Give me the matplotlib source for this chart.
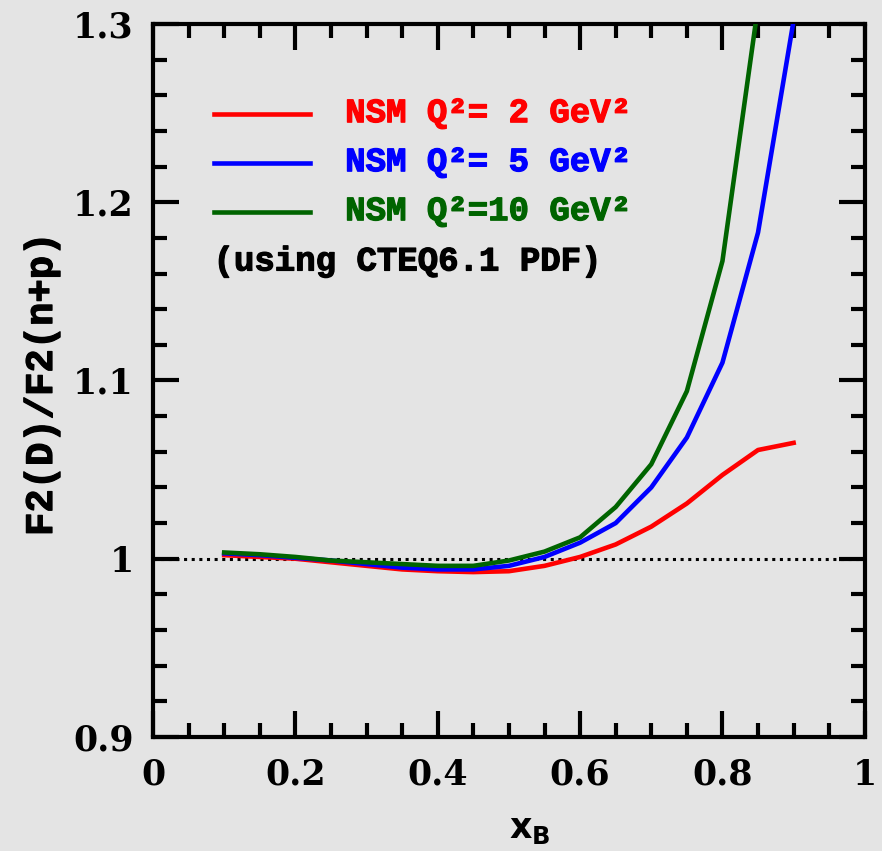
import numpy as np
import matplotlib
matplotlib.use("Agg")
import matplotlib.pyplot as plt
import matplotlib.patheffects as pe
from matplotlib.ticker import MultipleLocator, FixedLocator

# x_B grid of the calculation
x_b = [0.10, 0.15, 0.20, 0.25, 0.30, 0.35, 0.40, 0.45, 0.50, 0.55,
       0.60, 0.65, 0.70, 0.75, 0.80, 0.85, 0.90]

# F2(D)/F2(n+p)
ratio_q2_2 = [1.002, 1.001, 1.000, 0.998, 0.996, 0.994, 0.993, 0.9925, 0.993, 0.996,
              1.001, 1.008, 1.018, 1.031, 1.047, 1.061, 1.065]
ratio_q2_5 = [1.003, 1.002, 1.0005, 0.999, 0.997, 0.995, 0.994, 0.994, 0.996, 1.001,
              1.009, 1.020, 1.040, 1.068, 1.110, 1.183, 1.302]
ratio_q2_10 = [1.0035, 1.0025, 1.001, 0.999, 0.998, 0.997, 0.996, 0.996, 0.999, 1.004,
               1.012, 1.029, 1.053, 1.094, 1.167, 1.310]
x_b_10 = x_b[:len(ratio_q2_10)]

legend_labels = ["NSM Q\u00b2= 2 GeV\u00b2", "NSM Q\u00b2= 5 GeV\u00b2", "NSM Q\u00b2=10 GeV\u00b2"]
colors = ["#ff0000", "#0000ff", "#006400"]
x_ticks = [0, 0.2, 0.4, 0.6, 0.8, 1.0]
x_tick_labels = ["0", "0.2", "0.4", "0.6", "0.8", "1"]
y_ticks = [0.9, 1.0, 1.1, 1.2, 1.3]
y_tick_labels = ["0.9", "1", "1.1", "1.2", "1.3"]

bg = "#e4e4e4"
mono = "Liberation Mono"
fig = plt.figure(figsize=(8.82, 8.51), dpi=100, facecolor=bg)
ax = fig.add_axes([0.1735, 0.134, 0.807, 0.8378])
ax.set_facecolor(bg)

ax.plot([0, 1], [1, 1], color="black", lw=2.2, ls=(0, (1, 1.5)), zorder=1)
ax.plot(x_b, ratio_q2_2, color=colors[0], lw=3.3, zorder=3)
ax.plot(x_b, ratio_q2_5, color=colors[1], lw=3.3, zorder=3)
ax.plot(x_b_10, ratio_q2_10, color=colors[2], lw=3.3, zorder=3)

ax.set_xlim(0, 1)
ax.set_ylim(0.9, 1.3)

ax.xaxis.set_major_locator(FixedLocator(x_ticks))
ax.set_xticklabels(x_tick_labels)
ax.xaxis.set_minor_locator(MultipleLocator(0.05))
ax.yaxis.set_major_locator(FixedLocator(y_ticks))
ax.set_yticklabels(y_tick_labels)
ax.yaxis.set_minor_locator(MultipleLocator(0.02))

ax.tick_params(which="both", direction="in", top=True, right=True, width=3, color="black")
ax.tick_params(which="major", length=19)
ax.tick_params(axis="x", which="major", pad=15)
ax.tick_params(axis="y", which="major", pad=14)
ax.tick_params(which="minor", length=10)
for lab in ax.get_xticklabels() + ax.get_yticklabels():
    lab.set_fontfamily("DejaVu Serif")
    lab.set_fontweight("bold")
    lab.set_fontsize(25)
for sp in ax.spines.values():
    sp.set_linewidth(3)

thick = [pe.withStroke(linewidth=0.9, foreground="black")]
fig.text(42 / 882, 1 - 384 / 851, "F2(D)/F2(n+p)", family=mono, fontweight="bold",
         fontsize=28, rotation=90, ha="center", va="center", path_effects=thick)
fig.text(530 / 882, 1 - 829 / 851, r"$\mathbf{x}_{\mathbf{B}}$", fontsize=25,
         ha="center", va="center")

# legend drawn by hand, like the original
leg_y = [1.2497, 1.2222, 1.1947, 1.1665]
for i, lab in enumerate(legend_labels):
    ax.plot([0.085, 0.221], [leg_y[i], leg_y[i]], color=colors[i], lw=3.3)
    ax.text(0.27, leg_y[i], lab, color=colors[i], family=mono, fontweight="bold",
            fontsize=24.5, va="center", ha="left",
            path_effects=[pe.withStroke(linewidth=0.9, foreground=colors[i])])
ax.text(0.085, leg_y[3], "(using CTEQ6.1 PDF)", color="black", family=mono,
        fontweight="bold", fontsize=24.5, va="center", ha="left", path_effects=thick)

fig.savefig("out.png", dpi=100, facecolor=bg)
